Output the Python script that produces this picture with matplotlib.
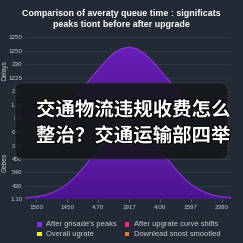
import matplotlib
matplotlib.use("Agg")
import matplotlib.pyplot as plt
import numpy as np
from matplotlib.patches import FancyBboxPatch, Rectangle, PathPatch
from matplotlib.colors import LinearSegmentedColormap
import matplotlib.patheffects as pe

plt.rcParams['font.family'] = ['Liberation Sans', 'DejaVu Sans']

# ---- data ----
x_vals = [-0.5, -0.25, 0.0, 0.25, 0.5, 0.75, 1.0, 1.25, 1.5, 1.75, 2.0, 2.25, 2.5, 2.75, 3.0,
          3.25, 3.5, 3.75, 4.0, 4.25, 4.5, 4.75, 5.0, 5.25, 5.5, 5.75, 6.0, 6.25, 6.5]
y_vals = [1.5, 2.0, 3.0, 5.0, 8.5, 13.5, 20.5, 30.0, 42.0, 55.0, 68.0, 80.5, 91.0, 97.5, 100.0,
          97.5, 91.0, 80.5, 68.0, 55.0, 42.0, 30.0, 20.5, 13.5, 8.5, 5.0, 3.0, 2.0, 1.5]
x_tick_labels = ["1500", "1450", "4.70", "1917", "4.00", "1597", "2380"]
upper_tick_labels = ["0.0", "1.50", "200", "1225", "230", "1250", "1250"]
lower_tick_labels = ["1.10", "430", "540", "450", "350", "670"]
legend_labels = ["After grisade's peaks", "After upgrate curve shifts",
                 "Overall ugrate", "Downlead snost smootled"]
legend_colors = ["#7b2ff0", "#ff1aa0", "#f5f51a", "#f07818"]
title = "Comparison of averaţy queue time : significats\npeaks tiont before after upgrade"
overlay_lines = ["交通物流违规收费怎么", "整治？交通运输部四举"]

BG = "#222a36"
TXT = "#c9ced6"
GRID = "#323c4b"

fig = plt.figure(figsize=(2.43, 2.43), dpi=100)
fig.patch.set_facecolor(BG)

W = 243.0
def fy(y):
    return 1 - y / W

left = 25 / W
width = (231 - 25) / W
ax_up = fig.add_axes([left, fy(118), width, fy(35) - fy(118)])
ax_lo = fig.add_axes([left, fy(199), width, fy(132) - fy(199)])

xs = np.array(x_vals)
ys = np.array(y_vals)
xlim = (-0.36, 6.3)
cmap = LinearSegmentedColormap.from_list("p", ["#4c1490", "#6a1fb8"])

def draw(ax, ylim, ticks, labels):
    ax.set_facecolor(BG)
    ax.set_xlim(*xlim)
    ax.set_ylim(*ylim)
    poly = ax.fill_between(xs, 0, ys, color="none", lw=0)
    grad = np.linspace(0, 1, 256).reshape(-1, 1)
    im = ax.imshow(grad, extent=[xlim[0], xlim[1], 0, 100], origin="lower",
                   aspect="auto", cmap=cmap, zorder=2)
    path = poly.get_paths()[0]
    pp = PathPatch(path, transform=ax.transData, facecolor="none", edgecolor="none")
    ax.add_patch(pp)
    im.set_clip_path(pp)
    ax.plot(xs, ys, color="#8a3ad6", lw=0.8, zorder=3)
    ax.set_yticks(ticks)
    ax.set_yticklabels(labels)
    ax.tick_params(axis="y", length=0, labelsize=4.5, colors=TXT, pad=2)
    ax.grid(axis="y", color=GRID, lw=0.6, zorder=0)
    ax.set_axisbelow(True)
    for s in ax.spines.values():
        s.set_visible(False)

up_ticks = [0, 19, 38, 57, 76, 95, 114]
draw(ax_up, (0, 117), up_ticks, upper_tick_labels)
ax_up.set_xticks([])

lo_ticks = [0, 18.5, 37, 55.5, 74, 92.5]
draw(ax_lo, (0, 93), lo_ticks, lower_tick_labels)
ax_lo.set_xticks(range(len(x_tick_labels)))
ax_lo.set_xticklabels(x_tick_labels)
ax_lo.tick_params(axis="x", length=2, width=0.5, color="#6a7384", labelsize=4.5, colors=TXT, pad=2)

fig.text(5 / W, fy(70), "Delays", rotation=90, ha="center", va="center", fontsize=4.7, color=TXT)
fig.text(5 / W, fy(162), "Gebes", rotation=90, ha="center", va="center", fontsize=4.7, color=TXT)

fig.text(0.5, fy(19), title, ha="center", va="center", fontsize=6.4, color="white",
         fontweight="bold", linespacing=1.25)

# legend
rows = [224.5, 234]
cols = [39.5, 127]
for i, (lab, col) in enumerate(zip(legend_labels, legend_colors)):
    r, c = divmod(i, 2)
    cx, cy = cols[c], rows[r]
    fig.add_artist(Rectangle((cx / W - 2.3 / W, fy(cy) - 2.3 / W), 4.6 / W, 4.6 / W,
                             transform=fig.transFigure, facecolor=col, edgecolor="none"))
    fig.text((cx + 7) / W, fy(cy), lab, ha="left", va="center", fontsize=5.4, color=TXT)

# overlay box
box = FancyBboxPatch((15 / W, fy(159)), (228 - 15) / W, (159 - 83) / W,
                     boxstyle="round,pad=0,rounding_size=0.03",
                     transform=fig.transFigure, facecolor="#141619", edgecolor="#3a3f47",
                     lw=0.6, alpha=0.88, zorder=10)
fig.add_artist(box)
for line, yy in zip(overlay_lines, [110, 136]):
    t = fig.text(36 / W, fy(yy), line, ha="left", va="center", fontsize=14.0,
                 color="white", fontweight="bold", family=["Noto Sans CJK SC", "DejaVu Sans"],
                 zorder=11)
    t.set_path_effects([pe.withStroke(linewidth=1.5, foreground="black")])

fig.savefig("out.png", dpi=100, facecolor=BG)
